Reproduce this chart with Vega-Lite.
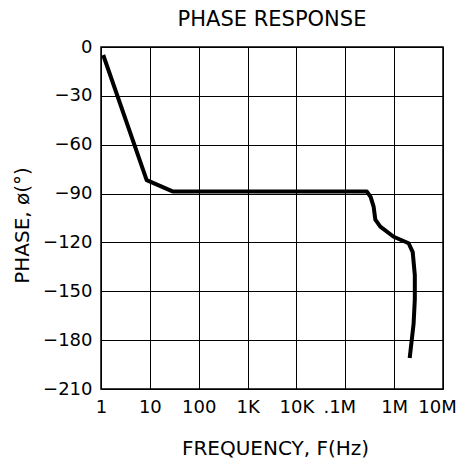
{
  "$schema": "https://vega.github.io/schema/vega-lite/v6.json",
  "width": 342,
  "height": 342,
  "autosize": {"type": "none"},
  "padding": {"left": 101, "top": 47, "right": 16, "bottom": 70},
  "background": "white",
  "title": {
    "text": "PHASE RESPONSE",
    "font": "DejaVu Sans",
    "fontSize": 21,
    "fontWeight": "normal",
    "color": "black",
    "anchor": "middle",
    "offset": 8
  },
  "config": {
    "view": {"stroke": "black", "strokeWidth": 1.5},
    "axis": {
      "labelFont": "DejaVu Sans",
      "titleFont": "DejaVu Sans",
      "labelFontSize": 18,
      "titleFontSize": 20,
      "labelColor": "black",
      "titleColor": "black",
      "titleFontWeight": "normal",
      "gridColor": "black",
      "gridOpacity": 1,
      "gridWidth": 1,
      "domain": false,
      "ticks": false,
      "labelPadding": 9
    }
  },
  "data": {
    "values": [
      {"f": 1.11, "phase": -4.9},
      {"f": 8.6, "phase": -81.7},
      {"f": 30, "phase": -88.8},
      {"f": 1000, "phase": -88.8},
      {"f": 277000, "phase": -88.8},
      {"f": 330000, "phase": -92},
      {"f": 380000, "phase": -98},
      {"f": 412000, "phase": -106},
      {"f": 521000, "phase": -110.3},
      {"f": 977000, "phase": -116.5},
      {"f": 1980000, "phase": -120.5},
      {"f": 2400000, "phase": -126},
      {"f": 2650000, "phase": -140},
      {"f": 2650000, "phase": -155},
      {"f": 2500000, "phase": -170},
      {"f": 2080000, "phase": -191}
    ]
  },
  "mark": {"type": "line", "color": "black", "strokeWidth": 4, "strokeJoin": "round", "strokeCap": "butt", "interpolate": "linear", "clip": true},
  "encoding": {
    "order": {"field": "phase", "sort": "descending"},
    "x": {
      "field": "f",
      "type": "quantitative",
      "scale": {"type": "log", "domain": [1, 10000000], "nice": false},
      "axis": {
        "values": [1, 10, 100, 1000, 10000, 100000, 1000000, 10000000],
        "labelExpr": "datum.value == 1 ? '1' : datum.value == 10 ? '10' : datum.value == 100 ? '100' : datum.value == 1000 ? '1K' : datum.value == 10000 ? '10K' : datum.value == 100000 ? '.1M' : datum.value == 1000000 ? '1M' : '10M'",
        "labelOffset": {"condition": {"test": "datum.value >= 100000 && datum.value != 1000000", "value": -6}, "value": 0},
        "labelFlush": false,
        "labelOverlap": false,
        "title": "FREQUENCY, F(Hz)",
        "titleX": 174,
        "titleY": 59,
        "titleBaseline": "middle",
        "titleAlign": "center"
      }
    },
    "y": {
      "field": "phase",
      "type": "quantitative",
      "scale": {"domain": [-210, 0], "nice": false},
      "axis": {
        "values": [0, -30, -60, -90, -120, -150, -180, -210],
        "labelFlush": false,
        "labelOverlap": false,
        "title": "PHASE, ø(°)",
        "titleAngle": -90,
        "titleX": -79,
        "titleY": 178,
        "titleBaseline": "middle",
        "titleAlign": "center"
      }
    }
  }
}
